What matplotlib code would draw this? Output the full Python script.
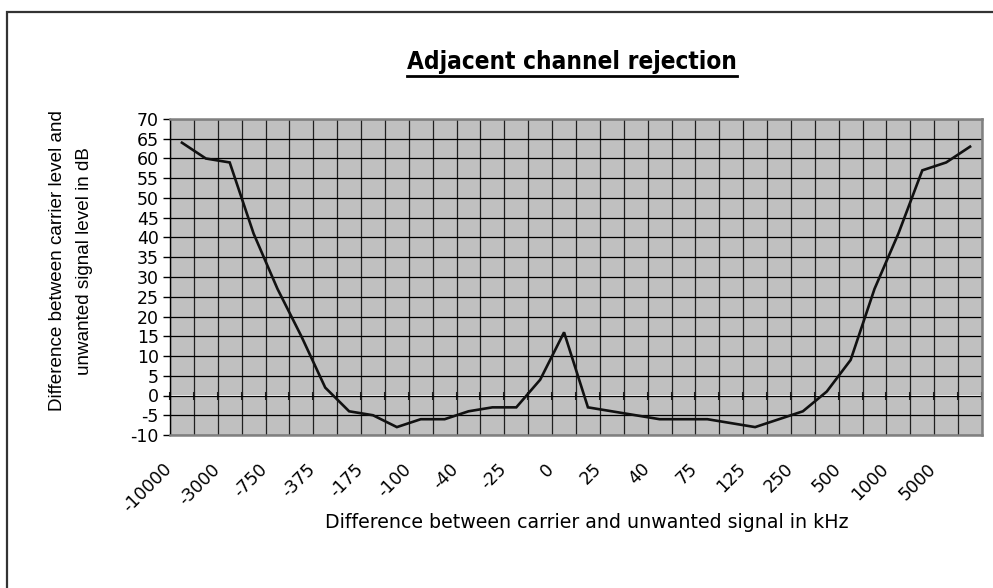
import numpy as np
import matplotlib
matplotlib.use('Agg')
import matplotlib.pyplot as plt
import matplotlib.transforms as mtransforms
from matplotlib.lines import Line2D
from matplotlib.patches import Rectangle

# Значения (34 точки, подписана каждая вторая категория)
tick_labels = ['-10000', '-3000', '-750', '-375', '-175', '-100', '-40', '-25', '0',
               '25', '40', '75', '125', '250', '500', '1000', '5000']
rejection_db = [64, 60, 59, 41, 27, 15, 2, -4, -5, -8, -6, -6, -4, -3, -3, 4, 16,
                -3, -4, -5, -6, -6, -6, -7, -8, -6, -4, 1, 9, 27, 41, 57, 59, 63]
y_ticks = list(range(-10, 75, 5))

title = 'Adjacent channel rejection'
x_label = 'Difference between carrier and unwanted signal in kHz'
y_label = 'Difference between carrier level and\nunwanted signal level in dB'

plt.rcParams['axes.unicode_minus'] = False

n = len(rejection_db)
x = np.arange(n)
ymin, ymax = -10, 70

fig = plt.figure(figsize=(9.93, 5.88), dpi=100)
ax = fig.add_axes([170 / 993, 1 - 435 / 588, 812 / 993, 316 / 588])
ax.set_facecolor('#C0C0C0')

# сетка
ax.set_xlim(-0.5, n - 0.5)
ax.set_ylim(ymin, ymax)
ax.set_yticks(y_ticks)
ax.set_xticks(x[::2])
ax.set_xticks(np.arange(-0.5, n), minor=True)
ax.grid(True, which='major', axis='y', color='black', lw=0.9)
ax.grid(True, which='minor', axis='x', color='#202020', lw=0.9)
ax.set_axisbelow(True)

ax.plot(x, rejection_db, color='#111111', lw=1.9, solid_joinstyle='miter', zorder=3)

for side in ['top', 'right', 'bottom']:
    ax.spines[side].set_color('#808080')
    ax.spines[side].set_linewidth(1.8)
ax.spines['left'].set_color('black')
ax.spines['left'].set_linewidth(1.0)

ax.tick_params(axis='y', which='major', direction='out', length=5, width=1,
               labelsize=12.5, pad=3)
ax.tick_params(axis='x', which='both', length=0)
ax.set_xticklabels(tick_labels, rotation=45, ha='right', va='top',
                   rotation_mode='anchor', fontsize=12.5)
ax.tick_params(axis='x', which='major', pad=18)
shift = mtransforms.ScaledTranslation(-19 / 100, 0, fig.dpi_scale_trans)
for lab in ax.get_xticklabels():
    lab.set_transform(lab.get_transform() + shift)

# засечки категорий на линии y=0, как в Excel
zero_pos = (0 - ymin) / (ymax - ymin)
sec = ax.secondary_xaxis(zero_pos)
sec.set_xticks(np.arange(-0.5, n))
sec.tick_params(direction='inout', length=6, width=1.5, labelbottom=False, color='#202020')
sec.spines['bottom'].set_visible(False)
sec.set_xticklabels([])

fig.text(587 / 993, 1 - 523 / 588, x_label, ha='center', va='center', fontsize=13.7,
         family='DejaVu Sans')
fig.text(71 / 993, 1 - 261 / 588, y_label, ha='center', va='center', rotation=90,
         fontsize=13.6, family=['Liberation Sans', 'DejaVu Sans'], linespacing=1.75)

t = fig.text(572 / 993, 1 - 62 / 588, title, ha='center', va='center', fontsize=17.5,
             weight='bold', stretch='condensed', family='DejaVu Sans')

# подчёркивание заголовка
fig.canvas.draw()
bb = t.get_window_extent()
uy = (bb.y0 - 2) / fig.bbox.height
fig.add_artist(Line2D([bb.x0 / fig.bbox.width, bb.x1 / fig.bbox.width], [uy, uy],
                      color='black', lw=2.0, transform=fig.transFigure))

# рамка вокруг всей диаграммы
fig.add_artist(Rectangle((7 / 993, -0.1), 1.2, 1.1 - 12 / 588, fill=False,
                         edgecolor='#333333', lw=1.6, transform=fig.transFigure,
                         clip_on=False))

fig.savefig('out.png', dpi=100)
